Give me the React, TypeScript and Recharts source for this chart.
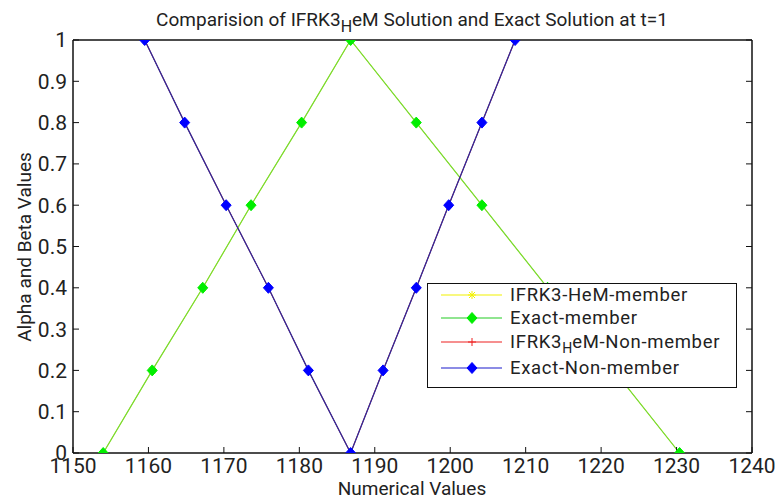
import React from "react";
import { LineChart, Line, XAxis, YAxis } from "recharts";

// x positions, y levels are the alpha/beta cuts
const memberY = [0, 0.2, 0.4, 0.6, 0.8, 1, 0.8, 0.6, 0.4, 0.2, 0];
const exactMemberX = [1154.0, 1160.5, 1167.2, 1173.6, 1180.3, 1186.8, 1195.5, 1204.2, 1212.9, 1221.7, 1230.4];
const ifrkMemberX = [1154.0, 1160.5, 1167.2, 1173.6, 1180.3, 1186.8, 1195.5, 1204.2, 1212.9, 1221.7, 1230.4];

const nonMemberY = [1, 0.8, 0.6, 0.4, 0.2, 0, 0.2, 0.4, 0.6, 0.8, 1];
const exactNonMemberX = [1159.5, 1164.8, 1170.3, 1175.9, 1181.2, 1186.8, 1191.1, 1195.5, 1199.8, 1204.2, 1208.6];
const ifrkNonMemberX = [1159.5, 1164.8, 1170.3, 1175.9, 1181.2, 1186.8, 1191.1, 1195.5, 1199.8, 1204.2, 1208.6];

const xTicks = [1150, 1160, 1170, 1180, 1190, 1200, 1210, 1220, 1230, 1240];
const yTicks = [0, 0.1, 0.2, 0.3, 0.4, 0.5, 0.6, 0.7, 0.8, 0.9, 1];

const toPoints = (xs: number[], ys: number[]) => xs.map((x, i) => ({ x, y: ys[i] }));

const FONT = "Roboto, 'Liberation Sans', sans-serif";

const Diamond = ({ cx, cy, fill }: { cx: number; cy: number; fill: string }) => (
  <polygon
    points={`${cx},${cy - 5.5} ${cx + 5},${cy} ${cx},${cy + 5.5} ${cx - 5},${cy}`}
    fill={fill}
    stroke={fill}
  />
);

const Plus = ({ cx, cy, color }: { cx: number; cy: number; color: string }) => (
  <g stroke={color} strokeWidth={1}>
    <line x1={cx - 4} y1={cy} x2={cx + 4} y2={cy} />
    <line x1={cx} y1={cy - 4} x2={cx} y2={cy + 4} />
  </g>
);

const Star = ({ cx, cy, color }: { cx: number; cy: number; color: string }) => (
  <g stroke={color} strokeWidth={1}>
    <line x1={cx - 4} y1={cy} x2={cx + 4} y2={cy} />
    <line x1={cx} y1={cy - 4} x2={cx} y2={cy + 4} />
    <line x1={cx - 3} y1={cy - 3} x2={cx + 3} y2={cy + 3} />
    <line x1={cx - 3} y1={cy + 3} x2={cx + 3} y2={cy - 3} />
  </g>
);

const diamondDot = (fill: string) => (p: any) => (
  <Diamond key={`d-${fill}-${p.index}`} cx={p.cx} cy={p.cy} fill={fill} />
);
const plusDot = (color: string) => (p: any) => (
  <Plus key={`p-${color}-${p.index}`} cx={p.cx} cy={p.cy} color={color} />
);
const starDot = (color: string) => (p: any) => (
  <Star key={`s-${color}-${p.index}`} cx={p.cx} cy={p.cy} color={color} />
);

const noTick = () => <g />;

const legendRows = [
  { label: <>IFRK3-HeM-member</>, line: "#f2f200", marker: "star", color: "#f2f200", h: 22 },
  { label: <>Exact-member</>, line: "#22cc22", marker: "diamond", color: "#00ee00", h: 23 },
  {
    label: (
      <>
        IFRK3<sub style={{ fontSize: 14, lineHeight: 0, verticalAlign: -5, letterSpacing: 0 }}>H</sub>eM-Non-member
      </>
    ),
    line: "#ee2020",
    marker: "plus",
    color: "#ee2020",
    h: 25,
  },
  { label: <>Exact-Non-member</>, line: "#1a1acc", marker: "diamond", color: "#0000ff", h: 28 },
];

const LegendBox = () => (
  <div
    style={{
      position: "absolute",
      left: 427,
      top: 283,
      boxSizing: "border-box",
      width: 310,
      height: 105,
      border: "1.5px solid #111",
      background: "#fff",
      fontFamily: FONT,
      fontSize: 18.5,
      letterSpacing: 0.7,
      color: "#222",
    }}
  >
    {legendRows.map((r, i) => (
      <div key={i} style={{ display: "flex", alignItems: "center", height: r.h, lineHeight: "18px" }}>
        <svg width={82} height={20} style={{ flex: "none" }}>
          <line x1={13} y1={10} x2={74} y2={10} stroke={r.line} strokeWidth={1.2} />
          {r.marker === "diamond" && <Diamond cx={44} cy={10} fill={r.color} />}
          {r.marker === "plus" && <Plus cx={44} cy={10} color={r.color} />}
          {r.marker === "star" && <Star cx={44} cy={10} color={r.color} />}
        </svg>
        <span style={{ whiteSpace: "nowrap" }}>{r.label}</span>
      </div>
    ))}
  </div>
);

export default function App() {
  const tickStyle = { fill: "#222", fontSize: 21, fontFamily: FONT };
  return (
    <div style={{ position: "absolute", left: 0, top: 0, width: 776, height: 500, background: "#fff" }}>
      <LineChart width={776} height={500} margin={{ top: 0, right: 0, bottom: 0, left: 0 }}>
        <XAxis
          xAxisId={0}
          dataKey="x"
          type="number"
          domain={[1150, 1240]}
          ticks={xTicks}
          allowDataOverflow
          height={47}
          tickSize={-6}
          tickMargin={11}
          tick={tickStyle}
          axisLine={{ stroke: "#111", strokeWidth: 1.5 }}
          tickLine={{ stroke: "#111" }}
        />
        <XAxis
          xAxisId="top"
          orientation="top"
          type="number"
          domain={[1150, 1240]}
          ticks={xTicks}
          allowDataOverflow
          height={40}
          tickSize={-6}
          tick={noTick}
          axisLine={{ stroke: "#111", strokeWidth: 1.5 }}
          tickLine={{ stroke: "#111" }}
        />
        <YAxis
          yAxisId={0}
          type="number"
          domain={[0, 1]}
          ticks={yTicks}
          allowDataOverflow
          width={73}
          tickSize={-6}
          tickMargin={12}
          tick={tickStyle}
          axisLine={{ stroke: "#111", strokeWidth: 1.5 }}
          tickLine={{ stroke: "#111" }}
        />
        <YAxis
          yAxisId="right"
          orientation="right"
          type="number"
          domain={[0, 1]}
          ticks={yTicks}
          allowDataOverflow
          width={24}
          tickSize={-6}
          tick={noTick}
          axisLine={{ stroke: "#111", strokeWidth: 1.5 }}
          tickLine={{ stroke: "#111" }}
        />
        <Line
          data={toPoints(ifrkMemberX, memberY)}
          dataKey="y"
          name="IFRK3-HeM-member"
          stroke="#ffff00"
          strokeWidth={1}
          dot={starDot("#ffff00")}
          isAnimationActive={false}
        />
        <Line
          data={toPoints(exactMemberX, memberY)}
          dataKey="y"
          name="Exact-member"
          stroke="#74d83a"
          strokeWidth={1.2}
          dot={diamondDot("#00ee00")}
          isAnimationActive={false}
        />
        <Line
          data={toPoints(ifrkNonMemberX, nonMemberY)}
          dataKey="y"
          name="IFRK3HeM-Non-member"
          stroke="#ff0000"
          strokeWidth={1}
          dot={plusDot("#ff0000")}
          isAnimationActive={false}
        />
        <Line
          data={toPoints(exactNonMemberX, nonMemberY)}
          dataKey="y"
          name="Exact-Non-member"
          stroke="#2d2d9c"
          strokeWidth={1.3}
          dot={diamondDot("#0000ff")}
          isAnimationActive={false}
        />
      </LineChart>
      <div
        style={{
          position: "absolute",
          left: 0,
          top: 9,
          width: 824,
          textAlign: "center",
          fontFamily: FONT,
          fontSize: 19,
          lineHeight: "22px",
          color: "#222",
          whiteSpace: "nowrap",
        }}
      >
        Comparision of IFRK3<sub style={{ fontSize: 16, lineHeight: 0, verticalAlign: -6 }}>H</sub>eM Solution and Exact Solution at t=1
      </div>
      <div
        style={{
          position: "absolute",
          left: 0,
          top: 479,
          width: 824,
          textAlign: "center",
          fontFamily: FONT,
          fontSize: 19,
          lineHeight: "20px",
          color: "#222",
        }}
      >
        Numerical Values
      </div>
      <div
        style={{
          position: "absolute",
          left: 24,
          top: 247,
          transform: "translate(-50%, -50%) rotate(-90deg)",
          fontFamily: FONT,
          fontSize: 19,
          color: "#222",
          whiteSpace: "nowrap",
        }}
      >
        Alpha and Beta Values
      </div>
      <LegendBox />
    </div>
  );
}
